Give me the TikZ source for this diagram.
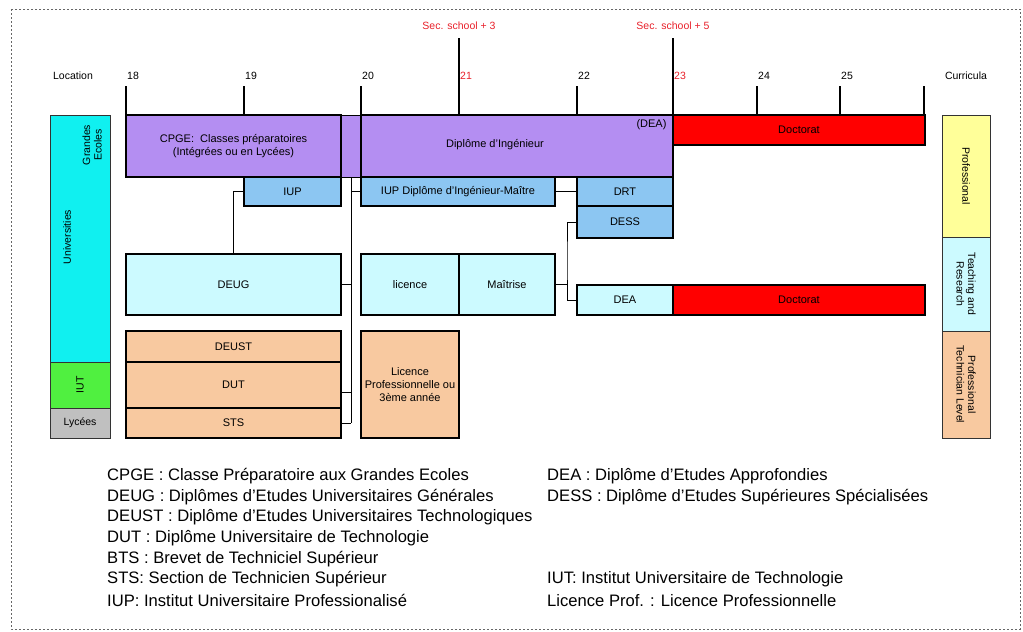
\documentclass[tikz,border=0pt]{standalone}
\usepackage{fontspec}
\setmainfont{Liberation Sans}

\definecolor{cpgepurple}{HTML}{B48EF2}
\definecolor{iupblue}{HTML}{8CC6F2}
\definecolor{paleblue}{HTML}{CCFAFF}
\definecolor{peach}{HTML}{F8C9A0}
\definecolor{univcyan}{HTML}{10F0F0}
\definecolor{iutgreen}{HTML}{50F040}
\definecolor{lyceegrey}{HTML}{C0C0C0}
\definecolor{profyellow}{HTML}{FFFF99}
\definecolor{docred}{HTML}{FF0000}
\definecolor{agered}{HTML}{E8202A}

\tikzset{
  box/.style={draw, line width=1.3pt, inner sep=0pt, align=center, font=\fontsize{11}{13}\selectfont},
  side/.style={draw=black!80, line width=0.9pt, inner sep=0pt},
  sidetext/.style={inner sep=0pt, align=center, font=\fontsize{10.5}{11.5}\selectfont},
  link/.style={line width=0.8pt},
  tick/.style={line width=1.1pt},
  agelabel/.style={anchor=west, inner sep=1pt, font=\fontsize{10.5}{12}\selectfont},
  legend/.style={anchor=west, inner sep=0pt, font=\fontsize{16.6}{18}\selectfont},
}

\begin{document}
\begin{tikzpicture}[x=1pt, y=-1pt]
\useasboundingbox (0,0) rectangle (1023,632);
\draw[black!60, line width=0.6pt, dash pattern=on 2pt off 2pt] (11,9) rectangle (1020,629);

% age axis
\node[agelabel, anchor=center] (location) at (73,76) {Location};
\node[agelabel, anchor=center] (curricula) at (966,76) {Curricula};
\foreach \x/\a/\c in {126/18/black, 244/19/black, 361/20/black, 459/21/agered,
                      577/22/black, 673/23/agered, 757/24/black, 840/25/black} {
  \node[agelabel, text=\c] (age\a) at (\x,76) {\a};
  \draw[tick] (\x,86) -- (\x,115);
}
\draw[tick] (924,86) -- (924,115);
\node[agelabel, anchor=center, text=agered] (sec3) at (459,26) {Sec. school + 3};
\node[agelabel, anchor=center, text=agered] (sec5) at (673,26) {Sec. school + 5};
\draw[tick] (459,38) -- (459,86);
\draw[tick] (673,38) -- (673,86);

% location column
\node[side, fill=univcyan, minimum width=60, minimum height=247] (univ) at (80,238.5) {};
\node[sidetext, rotate=90] (univtext) at (67,237) {Universities};
\node[sidetext, rotate=90] (ecoles) at (92,145) {Grandes\\Ecoles};
\node[side, fill=iutgreen, minimum width=60, minimum height=46] (iut) at (80,385) {};
\node[sidetext, rotate=90] (iuttext) at (iut) {IUT};
\node[side, fill=lyceegrey, minimum width=60, minimum height=30] (lycee) at (80,423) {};
\node[sidetext] (lyceetext) at (lycee) {Lycées};

% curricula column
\node[side, fill=profyellow, minimum width=48, minimum height=122] (prof) at (966,176) {};
\node[sidetext, rotate=-90] (proftext) at (prof) {Professional};
\node[side, fill=paleblue, minimum width=48, minimum height=94] (teach) at (966,284) {};
\node[sidetext, rotate=-90] (teachtext) at (teach) {Teaching and\\Research};
\node[side, fill=peach, minimum width=48, minimum height=107] (tech) at (966,384.5) {};
\node[sidetext, rotate=-90] (techtext) at (tech) {Professional\\Technician Level};

% grandes ecoles
\draw[fill=cpgepurple, line width=0.6pt] (341,115) rectangle (361,177);
\node[box, fill=cpgepurple, minimum width=215, minimum height=62] (cpge) at (233.5,146)
  {CPGE:\ \ Classes préparatoires\\(Intégrées ou en Lycées)};
\node[box, fill=cpgepurple, minimum width=312, minimum height=62] (ing) at (517,146) {};
\node[sidetext, font=\fontsize{11}{13}\selectfont] (ingtext) at (495,145) {Diplôme d'Ingénieur};
\node[sidetext, font=\fontsize{11}{13}\selectfont, anchor=north east] (deatag)
  at ([xshift=-7pt, yshift=-5pt]ing.north east) {(DEA)};
\node[box, fill=docred, minimum width=252, minimum height=30] (doc1) at (799,130) {Doctorat};

% IUP row
\node[box, fill=iupblue, minimum width=97, minimum height=29] (iup) at (292.5,191.5) {IUP};
\node[box, fill=iupblue, minimum width=194, minimum height=29] (iupdim) at (458,191.5)
  {IUP Diplôme d'Ingénieur-Maître};
\node[box, fill=iupblue, minimum width=96, minimum height=29] (drt) at (625,191.5) {DRT};
\node[box, fill=iupblue, minimum width=96, minimum height=32] (dess) at (625,222) {DESS};

% university row
\node[box, fill=paleblue, minimum width=215, minimum height=61] (deug) at (233.5,284.5) {DEUG};
\node[box, fill=paleblue, minimum width=98, minimum height=61] (licence) at (410,284.5) {licence};
\node[box, fill=paleblue, minimum width=96, minimum height=61] (maitrise) at (507,284.5) {Maîtrise};
\node[box, fill=paleblue, minimum width=96, minimum height=30] (dea) at (625,300) {DEA};
\node[box, fill=docred, minimum width=252, minimum height=30] (doc2) at (799,300) {Doctorat};

% technician row
\node[box, fill=peach, minimum width=215, minimum height=31] (deust) at (233.5,346.5) {DEUST};
\node[box, fill=peach, minimum width=215, minimum height=46] (dut) at (233.5,385) {DUT};
\node[box, fill=peach, minimum width=215, minimum height=30] (sts) at (233.5,423) {STS};
\node[box, fill=peach, minimum width=98, minimum height=107] (lpro) at (410,384.5)
  {Licence\\Professionnelle ou\\3ème année};

% links
\coordinate (lbustop) at (351,178);
\coordinate (lbusbot) at (351,423);
\coordinate (rbus) at (567,260);
\draw[link] (deug.north) |- (iup.west);
\draw[link] (lbustop) -- (lbusbot);
\draw[link] (iupdim.west) -- (iupdim.west -| lbustop);
\draw[link] (deug.east) -- (deug.east -| lbustop);
\draw[link] ([yshift=-7pt]dut.east) -- ([yshift=-7pt]dut.east -| lbustop);
\draw[link] (sts.east) -- (lbusbot);
\draw[link] (iupdim.east) -- (drt.west);
\draw[link] (dess.west) -| (rbus) |- (dea.west);
\draw[link] (maitrise.east) -- (maitrise.east -| rbus);

% legend
\node[legend] (lgcpge) at (107,476) {CPGE : Classe Préparatoire aux Grandes Ecoles};
\node[legend] (lgdeug) at (107,496.7) {DEUG : Diplômes d'Etudes Universitaires Générales};
\node[legend] (lgdeust) at (107,517.4) {DEUST : Diplôme d'Etudes Universitaires Technologiques};
\node[legend] (lgdut) at (107,538.1) {DUT : Diplôme Universitaire de Technologie};
\node[legend] (lgbts) at (107,558.8) {BTS : Brevet de Techniciel Supérieur};
\node[legend] (lgsts) at (107,579.5) {STS: Section de Technicien Supérieur};
\node[legend] (lgiup) at (107,600.2) {IUP: Institut Universitaire Professionalisé};
\node[legend] (lgdea) at (547,476) {DEA : Diplôme d'Etudes Approfondies};
\node[legend] (lgdess) at (547,496.7) {DESS : Diplôme d'Etudes Supérieures Spécialisées};
\node[legend] (lgiut) at (547,579.5) {IUT: Institut Universitaire de Technologie};
\node[legend] (lglpro) at (547,600.2) {Licence Prof. : Licence Professionnelle};
\end{tikzpicture}
\end{document}
